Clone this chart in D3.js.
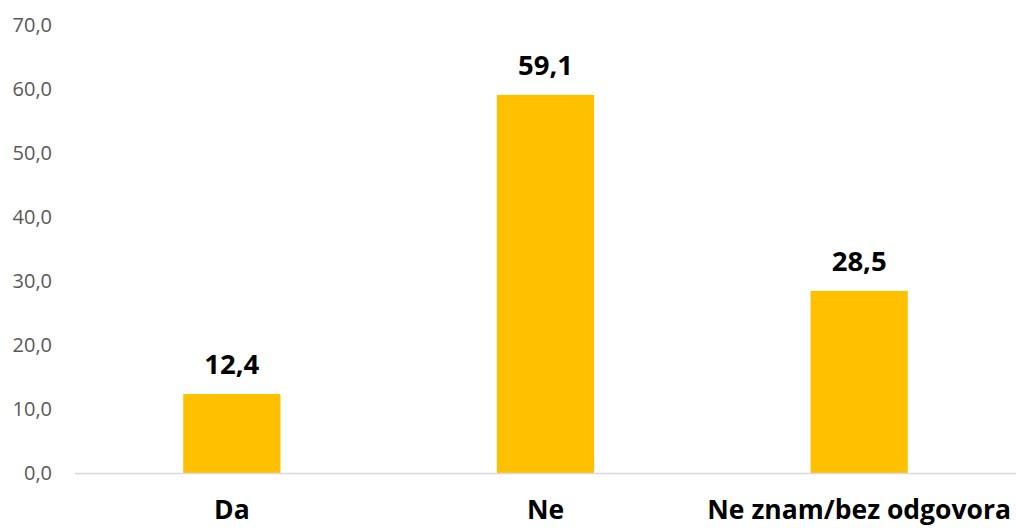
<!DOCTYPE html>
<html>
<head>
<meta charset="utf-8">
<script src="https://cdn.jsdelivr.net/npm/d3@7"></script>
<style>
  html, body { margin: 0; padding: 0; background: #fff; }
  svg { display: block; font-family: "Open Sans", sans-serif; }
</style>
</head>
<body>
<svg id="chart" width="1016" height="528"></svg>
<script>
const categories = ["Da", "Ne", "Ne znam/bez odgovora"];
const values = [12.4, 59.1, 28.5];
const yTicks = [0, 10, 20, 30, 40, 50, 60, 70];

const svg = d3.select("#chart");
const margin = { top: 25, right: 0, bottom: 54.5, left: 75 };
const width = 1016, height = 528;

const fmt = v => d3.format(".1f")(v).replace(".", ",");

const x = d3.scaleBand()
  .domain(categories)
  .range([margin.left, width - margin.right])
  .paddingInner(0.69)
  .paddingOuter(0.345);

const y = d3.scaleLinear()
  .domain([0, 70])
  .range([height - margin.bottom, margin.top]);

// y-axis tick labels (no axis line)
const yAxis = d3.axisLeft(y).tickValues(yTicks).tickFormat(fmt).tickSize(0).tickPadding(23);
const gy = svg.append("g").attr("transform", `translate(${margin.left},0)`).call(yAxis);
gy.select(".domain").remove();
gy.selectAll("text")
  .attr("fill", "#595959")
  .style("font-size", "20px")
  .style("font-family", "'Open Sans', sans-serif");

// bars
svg.append("g").selectAll("rect")
  .data(values)
  .join("rect")
  .attr("x", (d, i) => x(categories[i]))
  .attr("y", d => y(d))
  .attr("width", x.bandwidth())
  .attr("height", d => y(0) - y(d))
  .attr("fill", "#FFC000");

// baseline
svg.append("line")
  .attr("x1", margin.left).attr("x2", width - margin.right)
  .attr("y1", y(0)).attr("y2", y(0))
  .attr("stroke", "#d9d9d9").attr("stroke-width", 1.5);

// value labels
svg.append("g").selectAll("text")
  .data(values)
  .join("text")
  .attr("x", (d, i) => x(categories[i]) + x.bandwidth() / 2)
  .attr("y", d => y(d) - 20)
  .attr("text-anchor", "middle")
  .attr("fill", "#000")
  .style("font-size", "27.5px")
  .style("font-weight", "bold")
  .text(d => fmt(d));

// category labels
const xAxis = d3.axisBottom(x).tickSize(0).tickPadding(0);
const gx = svg.append("g").attr("transform", `translate(0,${y(0)})`).call(xAxis);
gx.select(".domain").remove();
gx.selectAll("text")
  .attr("dy", null)
  .attr("y", 45)
  .attr("fill", "#000")
  .style("font-size", "26.5px")
  .style("font-weight", "bold")
  .style("font-family", "'Open Sans', sans-serif");
</script>
</body>
</html>
